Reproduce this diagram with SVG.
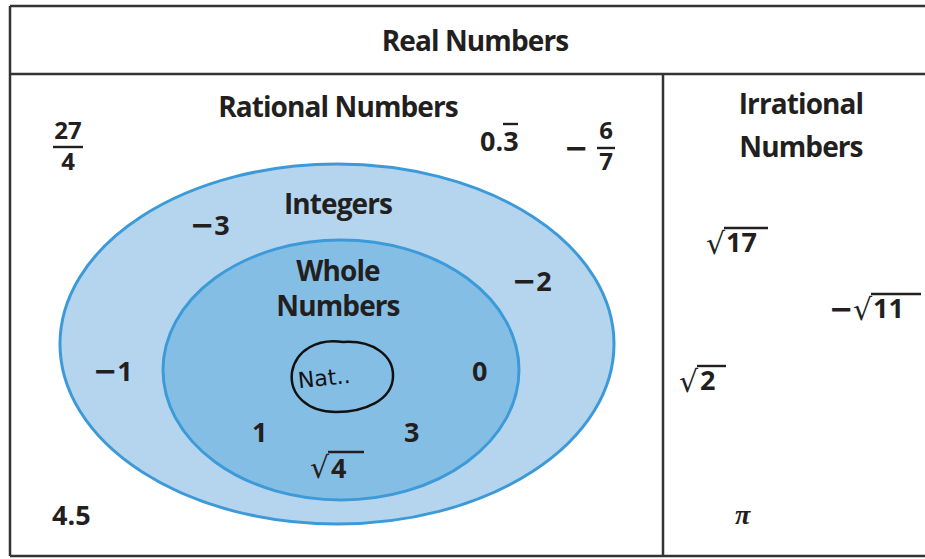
<svg xmlns="http://www.w3.org/2000/svg" width="925" height="559" viewBox="0 0 925 559">
<style>
.t{font-family:"Open Sans","Liberation Sans",sans-serif;font-weight:bold;fill:#231f20;font-size:27px}
.h{font-size:28px;letter-spacing:-0.9px}
.n{font-size:27px}
.f{font-size:24px}
.m{font-family:"DejaVu Sans",sans-serif;font-weight:bold;font-size:29px}
.r{font-family:"DejaVu Sans",sans-serif;font-weight:normal;font-size:30px}
.bar{stroke:#231f20;stroke-width:2.4}
.border{stroke:#333;stroke-width:2.5;fill:none}
</style>
<rect width="925" height="559" fill="#fff"/>
<g id="frame">
<path class="border" d="M10,6 H925 M10,6 V556 M10,74 H925 M663,74 V556 M10,556 H925"/>
</g>
<g id="real"><text class="t h" x="475" y="51" text-anchor="middle">Real Numbers</text></g>
<g id="rational">
<ellipse cx="337" cy="344" rx="277" ry="180" fill="#b5d5ef" stroke="#3d9ad8" stroke-width="3"/>
<text class="t h" x="338" y="117" text-anchor="middle">Rational Numbers</text>
<text class="t f" x="68" y="139" text-anchor="middle">27</text>
<line class="bar" x1="53" y1="147" x2="83" y2="147"/>
<text class="t f" x="68" y="170" text-anchor="middle">4</text>
<text class="t n" x="480" y="151">0.3</text>
<line class="bar" x1="503" y1="124" x2="518" y2="124"/>
<text class="t m" x="564" y="158">−</text>
<text class="t f" x="606" y="139" text-anchor="middle">6</text>
<line class="bar" x1="597" y1="148" x2="615" y2="148"/>
<text class="t f" x="606" y="170" text-anchor="middle">7</text>
<text class="t n" x="52" y="525">4.5</text>
</g>
<g id="integers">
<text class="t h" x="338" y="214" text-anchor="middle">Integers</text>
<text class="t n" x="190" y="235"><tspan class="m">−</tspan>3</text>
<text class="t n" x="512" y="291"><tspan class="m">−</tspan>2</text>
<text class="t n" x="93" y="381"><tspan class="m">−</tspan>1</text>
</g>
<g id="whole">
<ellipse cx="341" cy="370" rx="178" ry="130" fill="#85bee5" stroke="#3d9ad8" stroke-width="3"/>
<text class="t h" x="338" y="281" text-anchor="middle">Whole</text>
<text class="t h" x="338" y="316" text-anchor="middle">Numbers</text>
<text class="t n" x="472" y="381">0</text>
<text class="t n" x="252" y="442">1</text>
<text class="t n" x="404" y="442">3</text>
<text class="t r" x="310" y="478">√</text>
<line class="bar" x1="328" y1="452" x2="364" y2="452"/>
<text class="t n" x="331" y="478">4</text>
</g>
<g id="natural">
<path d="M343,342 C318,338 296,350 292,372 C289,395 308,412 336,412 C365,412 392,400 393,377 C394,355 372,340 343,342 Z" fill="none" stroke="#111" stroke-width="2.5"/>
<text x="298" y="385" font-family="'DejaVu Sans',sans-serif" font-size="22" fill="#111" transform="rotate(-6 330 380)">Nat..</text>
</g>
<g id="irrational">
<text class="t h" x="801" y="114" text-anchor="middle">Irrational</text>
<text class="t h" x="801" y="157" text-anchor="middle">Numbers</text>
<text class="t r" x="706" y="254">√</text>
<line class="bar" x1="724" y1="228" x2="768" y2="228"/>
<text class="t n" x="726" y="252">17</text>
<text class="t m" x="829" y="319">−</text>
<text class="t r" x="853" y="320">√</text>
<line class="bar" x1="871" y1="294" x2="921" y2="294"/>
<text class="t n" x="873" y="318">11</text>
<text class="t r" x="679" y="392">√</text>
<line class="bar" x1="697" y1="366" x2="726" y2="366"/>
<text class="t n" x="700" y="390">2</text>
<text x="735" y="524" font-family="'Liberation Serif',serif" font-size="28" font-style="italic" font-weight="bold" fill="#231f20">π</text>
</g>
</svg>
